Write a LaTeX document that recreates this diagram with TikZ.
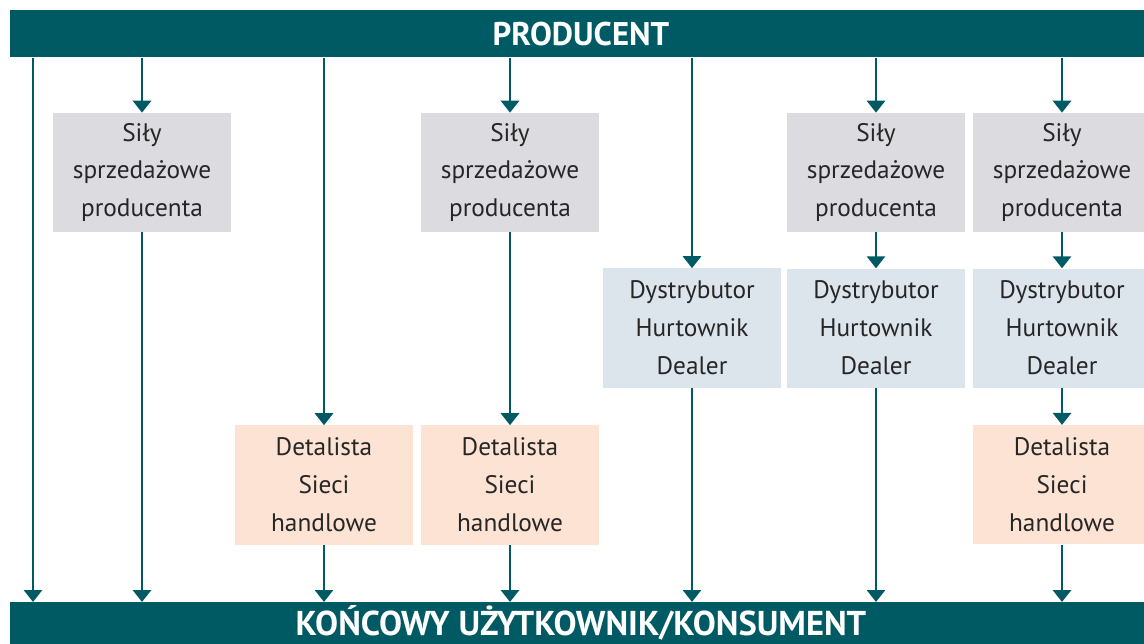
\documentclass[tikz,border=0pt]{standalone}
\usepackage{fontspec}
\setmainfont{PT Sans}
\usepackage{xcolor}
\usetikzlibrary{arrows.meta}
\usetikzlibrary{positioning}
\definecolor{morski}{HTML}{005A64}
\definecolor{szary}{HTML}{DCDBE0}
\definecolor{niebieski}{HTML}{DCE4EC}
\definecolor{brzoskwinia}{HTML}{FCE3D3}
\tikzset{
  pasek/.style={fill=morski, text=white, anchor=north west, inner sep=0pt,
    minimum width=28.525cm, minimum height=1.175cm, font=\fontsize{23.3}{26}\selectfont\bfseries},
  blok/.style={fill=#1, align=center, text width=4.425cm, minimum height=2.975cm,
    inner sep=0pt, text=black!85, font=\fontsize{18}{27}\selectfont},
  blok/.default=szary,
  strzalka/.style={-{Triangle[width=0.45cm,length=0.3cm]}, line width=2.1pt, draw=morski},
}

\begin{document}
\begin{tikzpicture}[x=0.025cm, y=-0.025cm]
  \useasboundingbox (0,0) rectangle (1144,644);
  \clip (0,0) rectangle (1144,644);
  \node[pasek] (prod) at (10,10) {PRODUCENT};
  \node[pasek, minimum height=1.05cm, font=\fontsize{24.5}{28}\selectfont\bfseries] (kons) at (10,602) {KOŃCOWY UŻYTKOWNIK/KONSUMENT};
  \coordinate (k0) at (33,300);
  % sily sprzedazowe
  \node[blok] (s1) at (142,172.5) {Siły\\sprzedażowe\\producenta};
  \node[blok] (s2) at (510,172.5) {Siły\\sprzedażowe\\producenta};
  \node[blok] (s3) at (876,172.5) {Siły\\sprzedażowe\\producenta};
  \node[blok] (s4) at (1062,172.5) {Siły\\sprzedażowe\\producenta};
  % dystrybutorzy
  \node[blok=niebieski] (d1) at (692,328) {Dystrybutor\\Hurtownik\\Dealer};
  \node[blok=niebieski, below=0.9cm of s3] (d2) {Dystrybutor\\Hurtownik\\Dealer};
  \node[blok=niebieski, below=0.9cm of s4] (d3) {Dystrybutor\\Hurtownik\\Dealer};
  % detalisci
  \node[blok=brzoskwinia] (t1) at (324,485) {Detalista\\Sieci\\handlowe};
  \node[blok=brzoskwinia] (t2) at (510,485) {Detalista\\Sieci\\handlowe};
  \node[blok=brzoskwinia, below=0.925cm of d3] (t3) {Detalista\\Sieci\\handlowe};
  % strzalki
  \draw[strzalka] (prod.south -| k0) -- (kons.north -| k0);
  \draw[strzalka] (prod.south -| s1) -- (s1);
  \draw[strzalka] (s1) -- (kons.north -| s1);
  \draw[strzalka] (prod.south -| t1) -- (t1);
  \draw[strzalka] (t1) -- (kons.north -| t1);
  \draw[strzalka] (prod.south -| s2) -- (s2);
  \draw[strzalka] (s2) -- (t2);
  \draw[strzalka] (t2) -- (kons.north -| t2);
  \draw[strzalka] (prod.south -| d1) -- (d1);
  \draw[strzalka] (d1) -- (kons.north -| d1);
  \draw[strzalka] (prod.south -| s3) -- (s3);
  \draw[strzalka] (s3) -- (d2);
  \draw[strzalka] (d2) -- (kons.north -| d2);
  \draw[strzalka] (prod.south -| s4) -- (s4);
  \draw[strzalka] (s4) -- (d3);
  \draw[strzalka] (d3) -- (t3);
  \draw[strzalka] (t3) -- (kons.north -| t3);
\end{tikzpicture}
\end{document}
